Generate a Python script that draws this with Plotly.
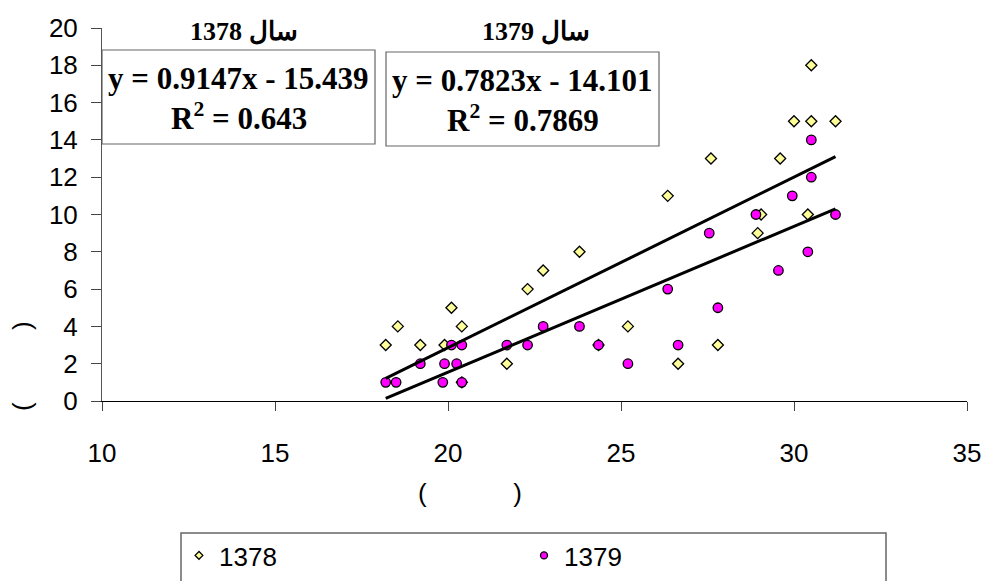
import plotly.graph_objects as go

# ---- data ----
x_1378 = [18.2, 18.55, 19.2, 19.9, 20.1, 20.4, 20.4, 21.7, 22.3, 22.75, 23.8, 24.35, 25.2,
          26.35, 26.65, 27.6, 27.8, 28.95, 29.05, 29.6, 30.0, 30.4, 30.5, 30.5, 31.2]
y_1378 = [3, 4, 3, 3, 5, 4, 1, 2, 6, 7, 8, 3, 4,
          11, 2, 13, 3, 9, 10, 13, 15, 10, 15, 18, 15]

x_1379 = [18.2, 18.5, 19.2, 19.85, 19.9, 20.1, 20.25, 20.4, 20.4, 21.7, 22.3, 22.75, 23.8,
          24.35, 25.2, 26.35, 26.65, 27.55, 27.8, 28.9, 29.55, 29.95, 30.4, 30.5, 30.5, 31.2]
y_1379 = [1, 1, 2, 1, 2, 3, 2, 3, 1, 3, 3, 4, 4,
          3, 2, 6, 3, 9, 5, 10, 7, 11, 8, 12, 14, 10]

series_names = ["1378", "1379"]
slopes = [0.9147, 0.7823]
intercepts = [-15.439, -14.101]
r2_values = ["0.643", "0.7869"]

x_ticks = [10, 15, 20, 25, 30, 35]
y_ticks = [0, 2, 4, 6, 8, 10, 12, 14, 16, 18, 20]

diamond_style = dict(symbol="diamond", color="#FFFF99", line=dict(color="black", width=1.3))
circle_style = dict(symbol="circle", color="#FF00FF", line=dict(color="black", width=1.3))

fig = go.Figure()

fig.add_trace(go.Scatter(
    x=x_1378, y=y_1378, mode="markers", name=series_names[0], showlegend=False,
    marker=dict(size=8.5, **diamond_style),
))
fig.add_trace(go.Scatter(
    x=x_1379, y=y_1379, mode="markers", name=series_names[1], showlegend=False,
    marker=dict(size=9.5, **circle_style),
))

# trend lines from the stated regression equations
for xs, m, b in [(x_1378, slopes[0], intercepts[0]), (x_1379, slopes[1], intercepts[1])]:
    x0, x1 = min(xs), max(xs)
    fig.add_trace(go.Scatter(
        x=[x0, x1], y=[m * x0 + b, m * x1 + b], mode="lines",
        line=dict(color="black", width=3), showlegend=False, hoverinfo="skip",
    ))

# legend-only entries (smaller symbols, as in the reference legend)
fig.add_trace(go.Scatter(x=[None], y=[None], mode="markers", name=series_names[0],
                         marker=dict(size=6, **diamond_style)))
fig.add_trace(go.Scatter(x=[None], y=[None], mode="markers", name=series_names[1],
                         marker=dict(size=7, **circle_style)))

W, H = 985, 581
L, R, T, B = 102, 18, 28, 180
pw, ph = W - L - R, H - T - B


def px(xp):
    # xp: horizontal window pixel -> paper fraction
    return (xp - L) / pw


def py(yp):
    # yp: vertical window pixel -> paper fraction
    return (H - B - yp) / ph


tick_font = dict(family="Liberation Sans, Arial, sans-serif", size=26, color="black")
box_font = dict(family="Liberation Serif, Times New Roman, serif", size=31, color="black")
title_font = dict(family="Liberation Serif, DejaVu Serif, serif", size=26, color="black")

fig.update_layout(
    width=W, height=H,
    margin=dict(l=L, r=R, t=T, b=B, pad=0, autoexpand=False),
    plot_bgcolor="white", paper_bgcolor="white",
    showlegend=True,
    legend=dict(
        orientation="h", x=px(179), y=py(532), xanchor="left", yanchor="top",
        font=tick_font, bgcolor="rgba(0,0,0,0)", borderwidth=0,
        entrywidth=300, entrywidthmode="pixels",
    ),
    xaxis=dict(
        range=[10, 35], tickvals=x_ticks, showgrid=False, zeroline=False,
        showline=True, linecolor="black", linewidth=1,
        ticks="outside", ticklen=9, tickcolor="#444", tickwidth=1,
        tickfont=tick_font, ticklabelstandoff=20, automargin=False,
    ),
    yaxis=dict(
        range=[0, 20], tickvals=y_ticks, showgrid=False, zeroline=False,
        showline=True, linecolor="#555", linewidth=1,
        ticks="outside", ticklen=10, tickcolor="#444", tickwidth=1,
        tickfont=tick_font, ticklabelstandoff=8, automargin=False,
    ),
)

# text boxes (equation + R^2)
boxes = [(102, 375, 50, 144), (386, 659, 52, 146)]
titles = ["1378 سال", "1379 سال"]
title_cx = [244, 536]
for i, (bx0, bx1, by0, by1) in enumerate(boxes):
    fig.add_shape(type="rect", xref="paper", yref="paper",
                  x0=px(bx0), x1=px(bx1), y0=py(by1), y1=py(by0),
                  line=dict(color="#666", width=1.2), fillcolor="white", layer="below")
    cx = (bx0 + bx1) / 2
    sign = "-" if intercepts[i] < 0 else "+"
    eq = f"<b>y = {slopes[i]}x {sign} {abs(intercepts[i])}</b>"
    fig.add_annotation(xref="paper", yref="paper", x=px(cx), y=py(by0 + 28),
                       text=eq, showarrow=False, font=box_font,
                       xanchor="center", yanchor="middle")
    fig.add_annotation(xref="paper", yref="paper", x=px(cx), y=py(by0 + 66),
                       text=f"<b>R<sup>2</sup> = {r2_values[i]}</b>", showarrow=False,
                       font=box_font, xanchor="center", yanchor="middle")
    fig.add_annotation(xref="paper", yref="paper", x=px(title_cx[i]), y=py(31),
                       text=f"<b>{titles[i]}</b>", showarrow=False, font=title_font,
                       xanchor="center", yanchor="middle")

# axis titles (only the parentheses render in the original)
nb = "\u00a0"
fig.add_annotation(xref="paper", yref="paper", x=px(470), y=py(493),
                   text="(" + nb * 12 + ")", showarrow=False, font=tick_font,
                   xanchor="center", yanchor="middle")
fig.add_annotation(xref="paper", yref="paper", x=px(22), y=py(366),
                   text="(" + nb * 10 + ")", showarrow=False, font=tick_font,
                   textangle=-90, xanchor="center", yanchor="middle")

# legend frame (extends past the bottom edge as in the reference)
fig.add_shape(type="rect", xref="paper", yref="paper",
              x0=px(181), x1=px(886), y0=py(600), y1=py(533),
              line=dict(color="#666", width=1.5), fillcolor="rgba(0,0,0,0)")

fig.write_html(
    "out.html",
    config={"displayModeBar": False},
    post_script="document.body.style.margin='0';document.body.style.overflow='hidden';",
)
